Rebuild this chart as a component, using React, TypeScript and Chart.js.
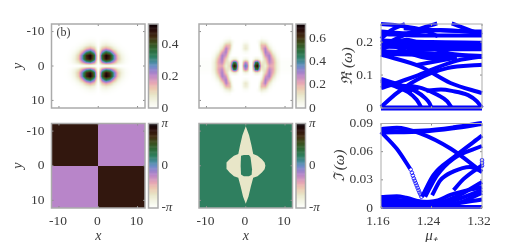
import React, { useEffect, useRef } from "react";
import { Chart, registerables } from "chart.js";

Chart.register(...registerables);

const PI = Math.PI;
const SERIF = "'Liberation Serif', serif";
const INK = "#3a3a3a";
const BLUE = "#0000ff";

// colour map stops: position, colour
const CMAP_POS = [0, 0.05, 0.1, 0.16, 0.24, 0.3, 0.4, 0.46, 0.5, 0.55, 0.62, 0.7, 0.78, 0.85, 0.93, 1];
const CMAP_HEX = ["#ffffff", "#f8faf0", "#f2f2e0", "#e8e6c8", "#ecc8b0", "#e8a8b4", "#b885c9", "#8e84cc", "#6f8fc8", "#4a8ca0", "#2f7f5f", "#2e6a38", "#3c4e1c", "#422c12", "#2c100c", "#0a0005"];

// density (b) left: one quadrant, mirrored by symmetry
const D1_X = [0, 1, 2, 3, 4, 5, 6, 7, 8, 9];
const D1_Y = [0, 1, 2, 3, 4, 5, 6, 7, 8, 9];
const D1_Z = [
  [0, 0, 0, 0, 0, 0, 0, 0, 0, 0],
  [0, 0.2, 0.28, 0.25, 0.17, 0.08, 0.04, 0.012, 0.002, 0],
  [0, 0.36, 0.5, 0.44, 0.28, 0.13, 0.055, 0.016, 0.003, 0],
  [0, 0.38, 0.52, 0.46, 0.28, 0.12, 0.045, 0.012, 0.002, 0],
  [0, 0.25, 0.36, 0.3, 0.17, 0.07, 0.025, 0.006, 0, 0],
  [0, 0.13, 0.18, 0.14, 0.07, 0.03, 0.008, 0.002, 0, 0],
  [0, 0.05, 0.07, 0.05, 0.025, 0.008, 0.002, 0, 0, 0],
  [0, 0.02, 0.025, 0.015, 0.006, 0.002, 0, 0, 0, 0],
  [0, 0.004, 0.005, 0.003, 0.001, 0, 0, 0, 0, 0],
  [0, 0, 0, 0, 0, 0, 0, 0, 0, 0],
];

// density middle: one quadrant, mirrored by symmetry
const D2_X = [0, 0.5, 1, 1.5, 2, 2.5, 3, 3.5, 4, 5, 6, 7, 8, 9];
const D2_Y = [0, 1, 2, 3, 4, 5, 6, 7, 8, 9];
const D2_Z = [
  [0.4, 0.3, 0.03, 0.01, 0.3, 0.64, 0.7, 0.42, 0.15, 0.08, 0.22, 0.2, 0.08, 0.01],
  [0.3, 0.22, 0.02, 0.01, 0.22, 0.46, 0.5, 0.3, 0.1, 0.12, 0.28, 0.22, 0.08, 0.01],
  [0.06, 0.04, 0.005, 0, 0.03, 0.08, 0.08, 0.05, 0.02, 0.16, 0.31, 0.2, 0.06, 0.005],
  [0, 0, 0, 0, 0, 0, 0, 0, 0.03, 0.25, 0.31, 0.14, 0.03, 0],
  [0.03, 0.02, 0.005, 0, 0, 0, 0, 0.01, 0.09, 0.31, 0.23, 0.07, 0.012, 0],
  [0.11, 0.08, 0.02, 0, 0, 0, 0, 0.04, 0.18, 0.3, 0.12, 0.02, 0, 0],
  [0.09, 0.07, 0.015, 0, 0, 0, 0, 0.07, 0.19, 0.2, 0.05, 0.005, 0, 0],
  [0.02, 0.015, 0.003, 0, 0, 0, 0.015, 0.05, 0.1, 0.07, 0.01, 0, 0, 0],
  [0, 0, 0, 0, 0, 0, 0, 0, 0.02, 0.01, 0, 0, 0, 0],
  [0, 0, 0, 0, 0, 0, 0, 0, 0, 0, 0, 0, 0, 0],
];

// phase panels, in units of pi
const PHASE_QUADRANTS = [0.82, -0.2, -0.2, 0.82];
const PHASE_GREEN = 0.24;
const PHASE_CREAM = -0.68;

// outline of the cream region and of the hole in it, middle phase panel
const CREAM_SHAPE = [
  { x: 0, y: -11.4 }, { x: 0.85, y: -8.8 }, { x: 1.45, y: -5.9 }, { x: 1.9, y: -3.4 }, { x: 3, y: -2.9 }, { x: 4.1, y: -1.9 }, { x: 4.8, y: -0.95 }, { x: 5, y: 0 },
  { x: 4.8, y: 1 }, { x: 4.1, y: 1.95 }, { x: 3, y: 3 }, { x: 1.9, y: 3.5 }, { x: 1.3, y: 6 }, { x: 0.7, y: 8.9 }, { x: 0, y: 11 },
  { x: -0.7, y: 8.9 }, { x: -1.3, y: 6 }, { x: -1.9, y: 3.5 }, { x: -3, y: 3 }, { x: -4.1, y: 1.95 }, { x: -4.8, y: 1 }, { x: -5, y: 0 },
  { x: -4.8, y: -0.95 }, { x: -4.1, y: -1.9 }, { x: -3, y: -2.9 }, { x: -1.9, y: -3.4 }, { x: -1.45, y: -5.9 }, { x: -0.85, y: -8.8 }, { x: 0, y: -11.4 },
];
const HOLE_SHAPE = [
  { x: -1.2, y: -2.9 }, { x: -0.5, y: -3.1 }, { x: 0.8, y: -3.1 }, { x: 1.2, y: -2.5 }, { x: 1.4, y: -0.8 }, { x: 1.6, y: 1 }, { x: 1.5, y: 2.6 },
  { x: 0.8, y: 3 }, { x: -0.5, y: 3 }, { x: -1.2, y: 2.5 }, { x: -1.3, y: 0 }, { x: -1.2, y: -2.9 },
];

// real part of the spectrum: [mu, value]
const RE_CURVES = [
  [[1.16, 0], [1.32, 0]],
  [[1.232, 0.052], [1.255, 0.056], [1.272, 0.052], [1.298, 0.039], [1.312, 0.02], [1.32, 0]],
  [[1.203, 0.068], [1.2245, 0.0606], [1.25, 0.0394], [1.265, 0.02], [1.272, 0]],
  [[1.193, 0.067], [1.214, 0.052], [1.23, 0.03], [1.237, 0.014], [1.24, 0]],
  [[1.16, 0.083], [1.182, 0.066], [1.203, 0.048], [1.2165, 0.025], [1.2245, 0]],
  [[1.16, 0.003], [1.185, 0.045], [1.217, 0.086], [1.265, 0.121], [1.32, 0.131]],
  [[1.16, 0.06], [1.214, 0.096], [1.275, 0.141], [1.32, 0.157]],
  [[1.16, 0.162], [1.222, 0.126], [1.27, 0.076], [1.32, 0.045]],
  [[1.16, 0.088], [1.19, 0.07], [1.21, 0.05]],
  [[1.16, 0.07], [1.19, 0.068], [1.22, 0.06]],
  [[1.16, 0.255], [1.19, 0.25], [1.23, 0.235], [1.25, 0.218]],
  [[1.198, 0.255], [1.175, 0.235], [1.16, 0.21]],
  [[1.249, 0.257], [1.217, 0.237], [1.175, 0.202], [1.16, 0.187]],
  [[1.272, 0.257], [1.32, 0.222]],
  [[1.16, 0.232], [1.2, 0.227], [1.254, 0.237], [1.32, 0.227]],
  [[1.196, 0.242], [1.25, 0.236], [1.32, 0.232]],
  [[1.16, 0.197], [1.24, 0.19], [1.32, 0.192]],
  [[1.16, 0.187], [1.24, 0.183], [1.32, 0.183]],
  [[1.16, 0.205], [1.24, 0.2], [1.32, 0.198]],
  [[1.16, 0.172], [1.227, 0.167], [1.32, 0.155]],
  [[1.16, 0.207], [1.233, 0.152], [1.27, 0.15]],
  [[1.16, 0.177], [1.2, 0.207], [1.233, 0.187], [1.27, 0.165], [1.32, 0.158]],
  [[1.217, 0.131], [1.265, 0.148], [1.28, 0.153]],
  [[1.16, 0.225], [1.22, 0.22], [1.32, 0.22]],
  [[1.2, 0.175], [1.26, 0.178], [1.32, 0.178]],
  [[1.16, 0.165], [1.24, 0.16], [1.28, 0.155]],
];

// imaginary part of the spectrum: [mu, value]
const IM_CURVES = [
  [[1.16, 0.081], [1.228, 0.082], [1.275, 0.0854], [1.32, 0.09]],
  [[1.16, 0.084], [1.185, 0.0854], [1.222, 0.0794], [1.27, 0.0633], [1.32, 0.0384]],
  [[1.16, 0.081], [1.185, 0.063], [1.206, 0.042]],
  [[1.225, 0.012], [1.243, 0.035], [1.275, 0.054], [1.32, 0.077]],
  [[1.23, 0.012], [1.249, 0.035], [1.275, 0.0527], [1.32, 0.066]],
  [[1.241, 0.0135], [1.254, 0.0295], [1.275, 0.039], [1.301, 0.0438], [1.32, 0.0384]],
  [[1.275, 0.019], [1.291, 0.031], [1.32, 0.0455]],
  [[1.16, 0.0117], [1.185, 0.0125], [1.2, 0.011], [1.23, 0.006], [1.26, 0.007]],
  [[1.16, 0.0095], [1.2, 0.008], [1.25, 0.006], [1.28, 0.0125], [1.32, 0.0278]],
  [[1.16, 0.0075], [1.22, 0.006], [1.25, 0.008], [1.27, 0.014], [1.32, 0.0224]],
  [[1.25, 0.004], [1.28, 0.009], [1.32, 0.019]],
  [[1.16, 0.003], [1.24, 0.002], [1.28, 0.005], [1.32, 0.016]],
  [[1.16, 0.0045], [1.25, 0.003], [1.32, 0.009]],
  [[1.16, 0.001], [1.32, 0.001]],
];
const IM_OPEN_POINTS = [
  [1.207, 0.041], [1.209, 0.0375], [1.2105, 0.0345], [1.212, 0.0315], [1.2135, 0.029], [1.215, 0.0265], [1.2165, 0.024],
  [1.218, 0.0215], [1.2195, 0.019], [1.221, 0.0165], [1.2225, 0.0145], [1.224, 0.012],
  [1.32, 0.051], [1.32, 0.048], [1.32, 0.045],
];

const XY_TICKS = [-10, 0, 10];
const X_MU_TICKS = [1.16, 1.24, 1.32];
const RE_TICKS = [0, 0.1, 0.2];
const IM_TICKS = [0, 0.03, 0.06, 0.09];
const CB1_TICKS = [0, 0.2, 0.4];
const CB2_TICKS = [0, 0.2, 0.4, 0.6];
const PHASE_TICKS = [-PI, 0, PI];

function hexRgb(h: string) {
  return [1, 3, 5].map((i) => parseInt(h.slice(i, i + 2), 16));
}
const CMAP_RGB = CMAP_HEX.map(hexRgb);
function cmap(t: number) {
  const v = Math.max(0, Math.min(1, t));
  let i = 0;
  while (i < CMAP_POS.length - 2 && v > CMAP_POS[i + 1]) i++;
  const f = (v - CMAP_POS[i]) / (CMAP_POS[i + 1] - CMAP_POS[i]);
  return CMAP_RGB[i].map((c, k) => c + (CMAP_RGB[i + 1][k] - c) * f);
}
function bracket(a: number[], v: number) {
  if (v >= a[a.length - 1]) return [a.length - 2, 1];
  let i = 0;
  while (v > a[i + 1]) i++;
  return [i, (v - a[i]) / (a[i + 1] - a[i])];
}
function quadrantSampler(xs: number[], ys: number[], z: number[][]) {
  return (x: number, y: number) => {
    const [i, fx] = bracket(xs, Math.abs(x));
    const [j, fy] = bracket(ys, Math.abs(y));
    return (z[j][i] * (1 - fx) + z[j][i + 1] * fx) * (1 - fy) + (z[j + 1][i] * (1 - fx) + z[j + 1][i + 1] * fx) * fy;
  };
}

const heatPlugin = {
  id: "heat",
  beforeDatasetsDraw(chart: any, _a: any, o: any) {
    if (!o.sample) return;
    const { left, top, right, bottom } = chart.chartArea;
    const l = Math.round(left), t = Math.round(top);
    const w = Math.round(right) - l, h = Math.round(bottom) - t;
    const ctx = chart.ctx;
    const img = ctx.createImageData(w, h);
    for (let py = 0; py < h; py++) {
      const y = chart.scales.y.getValueForPixel(t + py + 0.5);
      for (let px = 0; px < w; px++) {
        const x = chart.scales.x.getValueForPixel(l + px + 0.5);
        const c = cmap((o.sample(x, y) - o.min) / (o.max - o.min));
        const k = (py * w + px) * 4;
        img.data[k] = c[0]; img.data[k + 1] = c[1]; img.data[k + 2] = c[2]; img.data[k + 3] = 255;
      }
    }
    ctx.putImageData(img, l, t);
  },
};

const colorbarPlugin = {
  id: "colorbar",
  beforeDatasetsDraw(chart: any, _a: any, o: any) {
    if (!o.on) return;
    const { left, right } = chart.chartArea;
    const s = chart.scales.y;
    const ctx = chart.ctx;
    const N = 100;
    for (let i = 0; i < N; i++) {
      const v0 = s.min + ((s.max - s.min) * i) / N;
      const v1 = s.min + ((s.max - s.min) * (i + 1)) / N;
      const c = cmap((i + 0.5) / N);
      ctx.fillStyle = `rgb(${c[0] | 0},${c[1] | 0},${c[2] | 0})`;
      const y0 = s.getPixelForValue(v0), y1 = s.getPixelForValue(v1);
      ctx.fillRect(left, y1, right - left, y0 - y1 + 0.5);
    }
  },
};

const framePlugin = {
  id: "frame",
  afterDraw(chart: any, _a: any, o: any) {
    const { left, top, right, bottom } = chart.chartArea;
    const ctx = chart.ctx;
    ctx.save();
    ctx.strokeStyle = "#8c8c8c";
    ctx.lineWidth = 1;
    ctx.beginPath();
    const sx = chart.scales.x, sy = chart.scales.y;
    if (!o.noTicks) {
      for (const t of sx.ticks) {
        const p = sx.getPixelForValue(t.value);
        ctx.moveTo(p, bottom); ctx.lineTo(p, bottom - 2);
        ctx.moveTo(p, top); ctx.lineTo(p, top + 2);
      }
      for (const t of sy.ticks) {
        const p = sy.getPixelForValue(t.value);
        ctx.moveTo(left, p); ctx.lineTo(left + 2, p);
        ctx.moveTo(right, p); ctx.lineTo(right - 2, p);
      }
    }
    ctx.stroke();
    ctx.strokeStyle = "#ababab";
    ctx.lineWidth = o.width ?? 1;
    ctx.strokeRect(left, top, right - left, bottom - top);
    if (o.tag) {
      ctx.fillStyle = INK;
      ctx.font = `12px ${SERIF}`;
      ctx.textBaseline = "middle";
      ctx.fillText(o.tag, left + 5, top + 8.5);
    }
    ctx.restore();
  },
};

type Box = { l: number; t: number; r: number; b: number };

function axis(min: number, max: number, ticks: number[], opt: any) {
  const { size, labels, title, fmt, offset, pad, position, reverse, titleSize, italicNonZero } = opt;
  return {
    type: "linear",
    min,
    max,
    reverse: !!reverse,
    position,
    grid: { display: false, drawTicks: false },
    border: { display: false },
    afterBuildTicks: (s: any) => { s.ticks = ticks.map((value) => ({ value })); },
    afterFit: (s: any) => {
      if (s.isHorizontal()) s.height = size; else s.width = size;
    },
    ticks: {
      display: !!labels,
      autoSkip: false,
      maxRotation: 0,
      minRotation: 0,
      color: INK,
      padding: pad ?? 4,
      labelOffset: offset ?? 0,
      font: italicNonZero
        ? (c: any) => ({ family: SERIF, size: 13, style: c.tick && c.tick.value !== 0 ? "italic" : "normal" })
        : { family: SERIF, size: 13.5 },
      callback: fmt ?? ((v: number) => String(v)),
    },
    title: title
      ? {
          display: true,
          text: title,
          color: INK,
          padding: position === "bottom" ? { top: 0, bottom: -3 } : 0,
          font: { family: SERIF, size: titleSize ?? 14, style: "italic" },
        }
      : { display: false },
  };
}

function spec(box: Box, type: string, datasets: any[], xAxis: any, yAxis: any, plugins: any, sizes: { xs: number; ys: number; yRight?: boolean }) {
  const padding = {
    left: sizes.yRight ? box.l : box.l - sizes.ys,
    right: sizes.yRight ? 514 - box.r - sizes.ys : 514 - box.r,
    top: box.t,
    bottom: 242 - box.b - sizes.xs,
  };
  return {
    type,
    data: { datasets },
    plugins: [heatPlugin, colorbarPlugin, framePlugin],
    options: {
      responsive: false,
      animation: false,
      events: [],
      layout: { padding, autoPadding: false },
      plugins: { legend: { display: false }, tooltip: { enabled: false }, title: { display: false }, ...plugins },
      scales: { x: xAxis, y: yAxis },
    },
  };
}

function curveSets(curves: number[][][], width: number) {
  return curves.map((c, i) => ({
    data: c.map(([x, y]) => ({ x, y })),
    showLine: true,
    borderColor: BLUE,
    borderWidth: i === 0 ? width + 1 : width,
    cubicInterpolationMode: "monotone",
    pointRadius: 0,
    clip: false,
  }));
}

const piFmt = (v: number) => (v > 0 ? "π" : v < 0 ? "-π" : "0");

function buildSpecs() {
  const L1 = { l: 51.5, r: 145, t: 24, b: 108 };
  const M1 = { l: 199, r: 292.5, t: 24, b: 108 };
  const R1 = { l: 381, r: 482, t: 24, b: 108 };
  const L2 = { l: 51.5, r: 145, t: 123.5, b: 208 };
  const M2 = { l: 199, r: 292.5, t: 123.5, b: 208 };
  const R2 = { l: 381, r: 482, t: 123.5, b: 208 };
  const cb = (b: Box, dx: number) => ({ l: b.r + dx, r: b.r + dx + 9.5, t: b.t, b: b.b });

  const heat = (box: Box, showX: boolean, showY: boolean, sample: any, lo: number, hi: number, tag?: string, datasets: any[] = []) => {
    const xs = 34, ys = 42;
    return spec(
      box, "scatter", datasets,
      axis(-11.9, 11.9, XY_TICKS, { size: xs, labels: showX, title: showX ? "x" : undefined, position: "bottom", pad: 5, offset: -1 }),
      axis(-12.2, 12.2, XY_TICKS, { size: ys, labels: showY, title: showY ? "y" : undefined, position: "left", reverse: true, pad: 7 }),
      { heat: { sample, min: lo, max: hi }, frame: { width: 1.5, tag } },
      { xs, ys },
    );
  };
  const colorbar = (box: Box, lo: number, hi: number, ticks: number[], fmt?: any) => spec(
    box, "scatter", [],
    { type: "linear", display: false, min: 0, max: 1, afterFit: (s: any) => { s.height = 0; } },
    axis(lo, hi, ticks, { size: 24, labels: true, position: "right", pad: 3.5, fmt, italicNonZero: !!fmt }),
    { colorbar: { on: true }, frame: { width: 1.5, noTicks: true } },
    { xs: 0, ys: 24, yRight: true },
  );

  const line = (box: Box, curves: number[][][], max: number, ticks: number[], title: string, showX: boolean, titleGap: number, extra: any[] = []) => {
    const xs = 34;
    return spec(
      box, "scatter", [...extra, ...curveSets(curves, 4)],
      axis(1.16, 1.32, X_MU_TICKS, { size: xs, labels: showX, title: showX ? "μ₊" : undefined, position: "bottom", pad: 5, offset: -3, titleSize: 15, fmt: (v: number) => v.toFixed(2) }),
      axis(0, max, ticks, { size: titleGap, labels: true, title, titleSize: 15, position: "left", pad: 8, fmt: (v: number) => String(v) }),
      { frame: { width: 1 } },
      { xs, ys: titleGap },
    );
  };

  const phaseLeft = (x: number, y: number) => PHASE_QUADRANTS[(y < 0 ? 0 : 2) + (x < 0 ? 0 : 1)] * PI;
  const phaseMid = () => PHASE_GREEN * PI;
  const polygon = (pts: any[], color: string) => ({ data: pts, showLine: true, fill: "shape", backgroundColor: color, borderColor: color, borderWidth: 0, pointRadius: 0, tension: 0 });
  const creamRgb = cmap((PHASE_CREAM + 1) / 2);
  const greenRgb = cmap((PHASE_GREEN + 1) / 2);
  const css = (c: number[]) => `rgb(${c[0] | 0},${c[1] | 0},${c[2] | 0})`;

  return [
    heat(L1, false, true, quadrantSampler(D1_X, D1_Y, D1_Z), 0, 0.525, "(b)"),
    colorbar(cb(L1, 3.5), 0, 0.525, CB1_TICKS),
    heat(M1, false, false, quadrantSampler(D2_X, D2_Y, D2_Z), 0, 0.724),
    colorbar(cb(M1, 3.5), 0, 0.724, CB2_TICKS),
    line(R1, RE_CURVES, 0.255, RE_TICKS, "ℜ (ω)", false, 42),
    heat(L2, true, true, phaseLeft, -PI, PI),
    colorbar(cb(L2, 3.5), -PI, PI, PHASE_TICKS, piFmt),
    heat(M2, true, false, phaseMid, -PI, PI, undefined, [polygon(HOLE_SHAPE, css(greenRgb)), polygon(CREAM_SHAPE, css(creamRgb))]),
    colorbar(cb(M2, 3.5), -PI, PI, PHASE_TICKS, piFmt),
    line(R2, IM_CURVES, 0.09, IM_TICKS, "ℑ (ω)", true, 50, [{
      data: IM_OPEN_POINTS.map(([x, y]) => ({ x, y })),
      showLine: false,
      pointRadius: 1.8,
      pointBorderWidth: 0.8,
      pointBorderColor: BLUE,
      pointBackgroundColor: "rgba(0,0,0,0)",
      clip: false,
    }]),
  ];
}

function Panel({ config }: { config: any }) {
  const ref = useRef<HTMLCanvasElement>(null);
  useEffect(() => {
    const chart = new Chart(ref.current as HTMLCanvasElement, config);
    return () => chart.destroy();
  }, [config]);
  return <canvas ref={ref} width={514} height={242} style={{ position: "absolute", left: 0, top: 0, width: 514, height: 242 }} />;
}

const SPECS = buildSpecs();

export default function App() {
  return (
    <div style={{ position: "fixed", left: 0, top: 0, width: 514, height: 242, background: "#fff", overflow: "hidden" }}>
      {SPECS.map((c, i) => <Panel key={i} config={c} />)}
    </div>
  );
}
